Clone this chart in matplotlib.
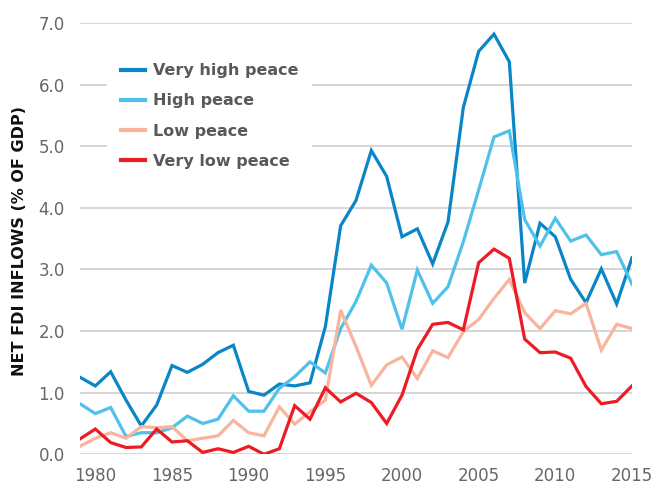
import numpy as np
import matplotlib
matplotlib.use("Agg")
import matplotlib.pyplot as plt

years = np.arange(1979, 2016)

very_high = [1.25, 1.11, 1.34, 0.88, 0.46, 0.80, 1.44, 1.33, 1.46, 1.65,
             1.77, 1.02, 0.96, 1.14, 1.11, 1.16, 2.07, 3.71, 4.12, 4.93,
             4.51, 3.53, 3.66, 3.09, 3.77, 5.63, 6.54, 6.82, 6.37, 2.78,
             3.75, 3.53, 2.84, 2.46, 3.01, 2.44, 3.19]
high = [0.82, 0.66, 0.76, 0.29, 0.35, 0.35, 0.43, 0.62, 0.50, 0.57,
        0.95, 0.70, 0.70, 1.07, 1.26, 1.50, 1.32, 2.04, 2.48, 3.07,
        2.78, 2.03, 2.99, 2.45, 2.72, 3.45, 4.29, 5.15, 5.25, 3.81,
        3.38, 3.83, 3.46, 3.56, 3.24, 3.29, 2.76]
low = [0.13, 0.26, 0.35, 0.26, 0.45, 0.43, 0.45, 0.22, 0.26, 0.30,
       0.55, 0.35, 0.30, 0.77, 0.49, 0.69, 0.88, 2.34, 1.75, 1.12,
       1.45, 1.58, 1.23, 1.68, 1.57, 1.99, 2.19, 2.53, 2.84, 2.30,
       2.04, 2.33, 2.28, 2.45, 1.69, 2.11, 2.04]
very_low = [0.25, 0.41, 0.19, 0.11, 0.12, 0.41, 0.20, 0.22, 0.03, 0.09,
            0.03, 0.13, 0.00, 0.09, 0.79, 0.57, 1.08, 0.85, 0.99, 0.84,
            0.50, 0.96, 1.70, 2.11, 2.14, 2.02, 3.11, 3.33, 3.18, 1.87,
            1.65, 1.66, 1.56, 1.10, 0.82, 0.86, 1.11]

series = [
    ("Very high peace", very_high, "#0a86c8"),
    ("High peace", high, "#4fc1ea"),
    ("Low peace", low, "#f8b49c"),
    ("Very low peace", very_low, "#ec1c24"),
]

x_ticks = [1980, 1985, 1990, 1995, 2000, 2005, 2010, 2015]
y_ticks = [0, 1, 2, 3, 4, 5, 6, 7]

fig = plt.figure(figsize=(6.6, 4.86), dpi=100)
ax = fig.add_axes([80 / 660, 1 - 454.3 / 486, 552 / 660, 431.3 / 486])

for label, vals, color in series:
    ax.plot(years, vals, color=color, lw=2.3, label=label, solid_joinstyle="miter")

ax.set_xlim(1979, 2015)
ax.set_ylim(0, 7)
ax.set_xticks(x_ticks)
ax.set_yticks(y_ticks)
ax.set_yticklabels([f"{v:.1f}" for v in y_ticks])
ax.grid(axis="y", color="#d0d0d0", lw=1.2)
ax.set_axisbelow(True)
for s in ax.spines.values():
    s.set_visible(False)
ax.tick_params(length=0, labelsize=12, labelcolor="#666666")
ax.tick_params(axis="y", pad=11)
ax.tick_params(axis="x", pad=9)

ax.set_ylabel("NET FDI INFLOWS (% OF GDP)", fontsize=11.5, fontweight="bold",
              color="#111111")
ax.yaxis.set_label_coords(-53 / 552, 0.495)

leg = ax.legend(loc="upper left", bbox_to_anchor=(0.049, 0.94), borderaxespad=0,
                frameon=True, facecolor="white", edgecolor="none", framealpha=1,
                fancybox=False, handlelength=1.5, handletextpad=0.45,
                labelspacing=0.95, borderpad=0.9,
                prop={"size": 11.5, "weight": "bold"})
for t in leg.get_texts():
    t.set_color("#58595b")
for h in leg.get_lines():
    h.set_linewidth(3)

fig.savefig("out.png", dpi=100)
